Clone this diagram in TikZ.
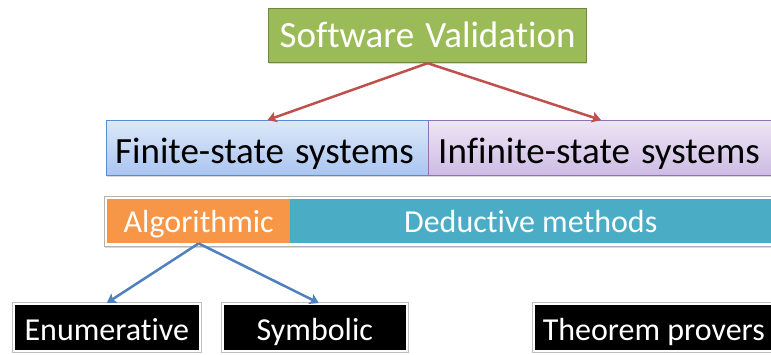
\documentclass[tikz,border=0pt]{standalone}
\usepackage{fontspec}
\setmainfont[Ligatures={NoCommon}]{Carlito}
\usetikzlibrary{arrows.meta,shadows}
\definecolor{svgreen}{HTML}{9BBB59}
\definecolor{svgreenline}{HTML}{71893F}
\definecolor{fintop}{HTML}{DDE8F9}
\definecolor{finbot}{HTML}{A9C5F0}
\definecolor{finline}{HTML}{5B8BD0}
\definecolor{inftop}{HTML}{EDE5F5}
\definecolor{infbot}{HTML}{CDBBE4}
\definecolor{infline}{HTML}{8F72B3}
\definecolor{algorange}{HTML}{F79646}
\definecolor{dedblue}{HTML}{4BACC6}
\definecolor{redarrow}{HTML}{C0504D}
\definecolor{bluearrow}{HTML}{4F81BD}
\newcommand\bigtextfont{\fontsize{37}{42}\selectfont\spaceskip=0.3em\relax}
\newcommand\midtextfont{\fontsize{32}{37}\selectfont}
\begin{document}
\begin{tikzpicture}[x=1pt,y=-1pt,
  box/.style={rectangle, inner sep=0pt, anchor=north west},
  shade/.style={drop shadow={shadow xshift=0.8pt, shadow yshift=-1.6pt, opacity=0.25, fill=black!60}},
  bigtext/.style={font=\bigtextfont},
  midtext/.style={font=\midtextfont},
  methodbox/.style={box, minimum height=44pt, text=white, midtext, text height=26pt, text depth=4pt},
  darkbox/.style={box, fill=black, draw=white, line width=1.6pt, text=white, midtext,
    minimum height=47pt, text height=30pt, text depth=3pt,
    preaction={draw=black!25, line width=3.6pt}},
  link/.style={line width=2.5pt, -{Stealth[length=9pt, width=11pt, inset=2pt]}}]
\clip (0,0) rectangle (771,355);
\fill[white] (0,0) rectangle (771,355);

% top level
\node[box, shade, fill=svgreen, draw=svgreenline, line width=1.2pt,
  minimum width=318pt, minimum height=54pt, text=white, bigtext,
  text height=28pt, text depth=4pt]
  (sv) at (268,8) {Software Validation};

% kinds of systems
\node[box, shade, top color=fintop, bottom color=finbot, draw=finline, line width=1pt,
  minimum width=322pt, minimum height=55pt, bigtext, text height=33pt, text depth=2pt]
  (fin) at (106,120) {\hspace*{-6pt}Finite-state systems};
\node[box, shade, top color=inftop, bottom color=infbot, draw=infline, line width=1pt,
  minimum width=345pt, minimum height=55pt, bigtext, text height=33pt, text depth=2pt]
  (inf) at (428,120) {\hspace*{-4pt}Infinite-state systems};

% kinds of methods
\node[box, shade, fill=white, draw=black!30, line width=0.8pt,
  minimum width=680pt, minimum height=50pt] (methods) at (104,196) {};
\node[methodbox, fill=algorange, minimum width=183pt] (alg) at (107,199) {Algorithmic};
\node[methodbox, fill=dedblue, minimum width=485pt] (ded) at (290,199) {\hspace*{-4pt}Deductive methods};

% tools
\node[darkbox, minimum width=186pt] (enum) at (13,303) {Enumerative};
\node[darkbox, minimum width=184pt] (sym) at (222,303) {Symbolic};
\node[darkbox, minimum width=240pt] (thm) at (533,303) {Theorem provers};

% connectors
\draw[link, redarrow] (sv.south) -- (fin.north);
\draw[link, redarrow] (sv.south) -- (inf.north);
\draw[link, bluearrow] (alg.south) -- (enum.north);
\draw[link, bluearrow] (alg.south) -- ([xshift=4pt]sym.north);
\end{tikzpicture}
\end{document}
